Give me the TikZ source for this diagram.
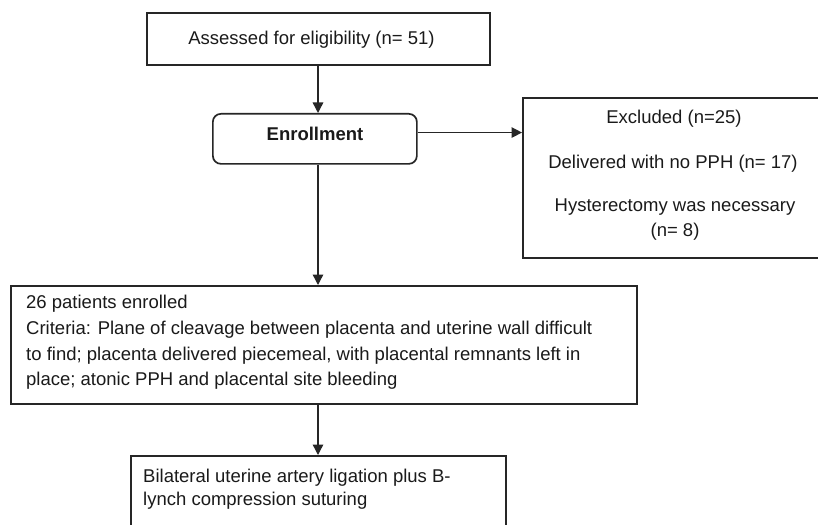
\documentclass[tikz,border=0pt]{standalone}
\usepackage{fontspec}
\setmainfont{Liberation Sans}
\usetikzlibrary{arrows.meta}
\definecolor{linec}{HTML}{262626}
\definecolor{textc}{HTML}{1A1A1A}
\begin{document}
\begin{tikzpicture}[x=1pt,y=-1pt,
  box/.style={draw=linec, line width=1.7pt, inner sep=0pt, anchor=north west},
  txt/.style={text=textc, inner sep=0pt, font=\fontsize{18.5}{22}\selectfont},
  arr/.style={draw=linec, line width=1.4pt, -{Triangle[length=10.5pt,width=10.5pt]}}]
\useasboundingbox (0,0) rectangle (818,524);
\clip (0,0) rectangle (818,524);
\fill[white] (0,0) rectangle (818,524);
% boxes
\node[box, minimum width=343pt, minimum height=52pt] (top) at (146,12) {};
\node[box, rounded corners=8pt, minimum width=204pt, minimum height=50pt] (enr) at (212,113) {};
\node[box, minimum width=310pt, minimum height=160pt] (excl) at (522,97) {};
\node[box, minimum width=626pt, minimum height=118pt] (crit) at (10,285) {};
\node[box, minimum width=375pt, minimum height=80pt] (treat) at (130,455) {};
% texts
\node[txt, anchor=base] (t1) at (311.5,45) {Assessed for eligibility (n= 51)};
\node[txt, anchor=base, font=\fontsize{18.5}{22}\selectfont\bfseries] (t2) at (315,140) {Enrollment};
\node[txt, anchor=base] (e1) at (674,123) {Excluded (n=25)};
\node[txt, anchor=base] (e2) at (673,168) {Delivered with no PPH (n= 17)};
\node[txt, anchor=base] (e3) at (675,211.7) {Hysterectomy was necessary};
\node[txt, anchor=base] (e4) at (675,236.5) {(n= 8)};
\node[txt, anchor=base west] (c1) at (26,308.5) {26 patients enrolled};
\node[txt, anchor=base west] (c2) at (26,334.2) {Criteria: Plane of cleavage between placenta and uterine wall difficult};
\node[txt, anchor=base west] (c3) at (26,360) {to find; placenta delivered piecemeal, with placental remnants left in};
\node[txt, anchor=base west] (c4) at (26,385.7) {place; atonic PPH and placental site bleeding};
\node[txt, anchor=base west] (b1) at (143,482) {Bilateral uterine artery ligation plus B-};
\node[txt, anchor=base west] (b2) at (143,505) {lynch compression suturing};
% connectors
\coordinate (ax) at (318,0);
\draw[arr] (top.south -| ax) -- (enr.north -| ax);
\draw[arr] ([yshift=6.3pt]enr.east) -- ([yshift=6.3pt]enr.east -| excl.west);
\draw[arr] (enr.south -| ax) -- (crit.north -| ax);
\draw[arr] (crit.south -| ax) -- (treat.north -| ax);
\end{tikzpicture}
\end{document}
